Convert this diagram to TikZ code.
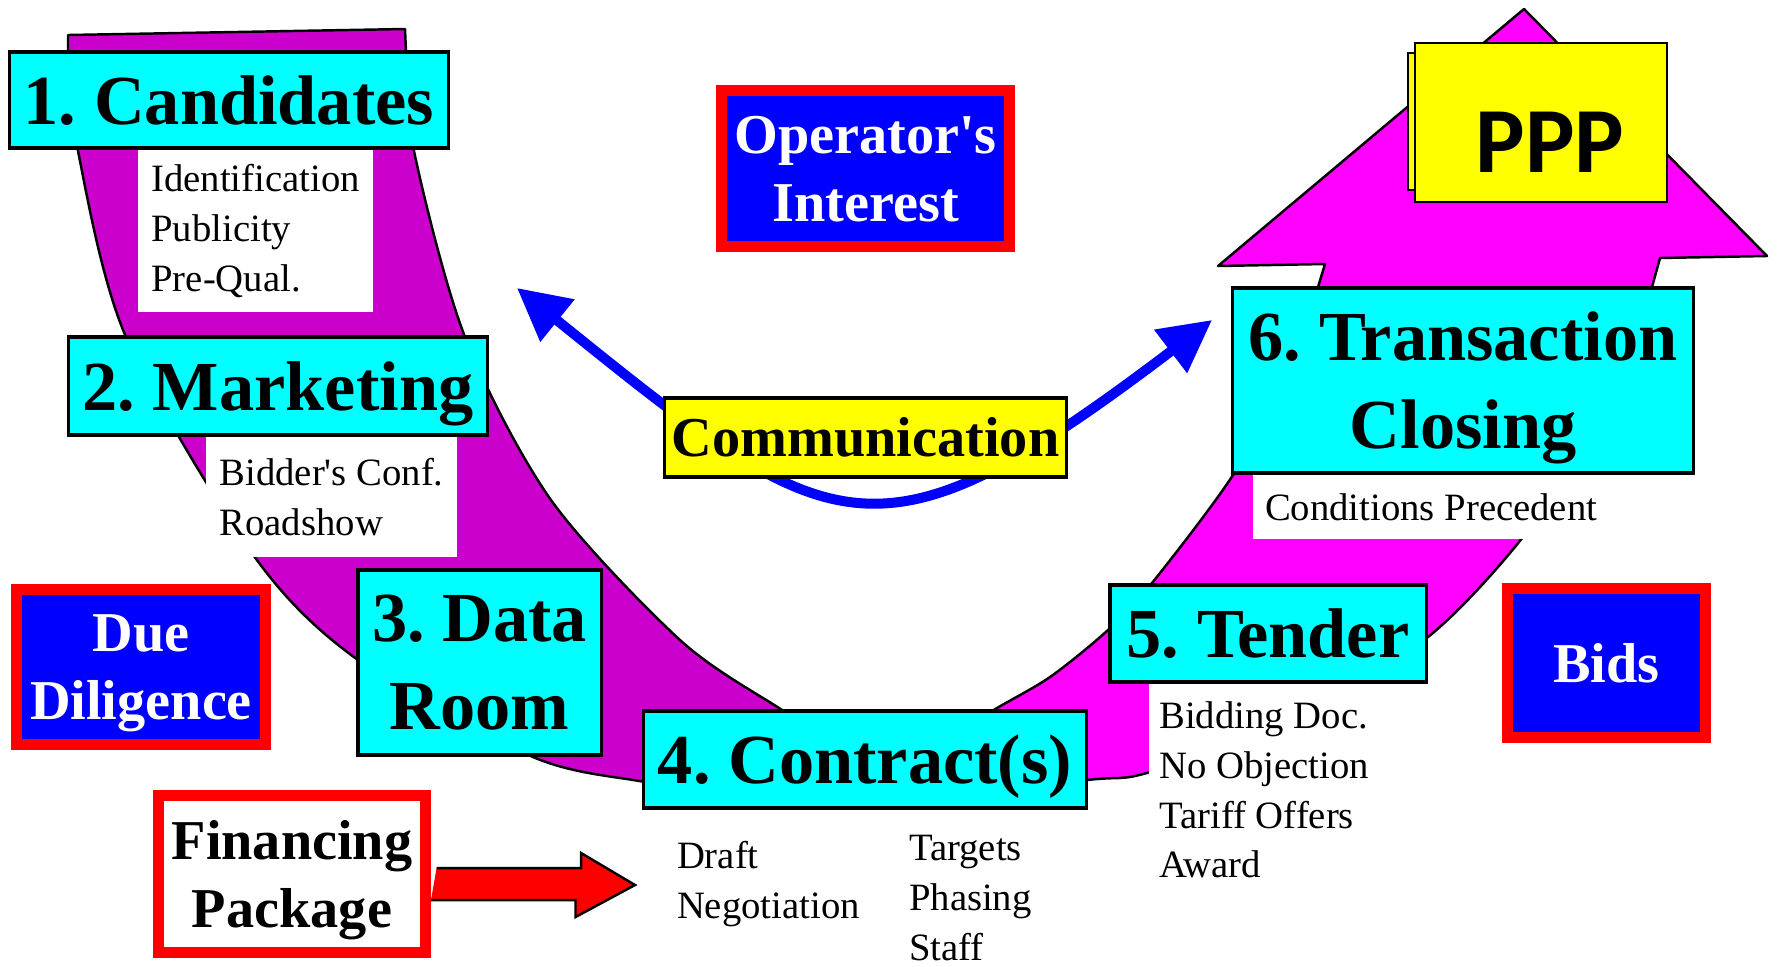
\documentclass[tikz,border=0pt]{standalone}
\usepackage{fontspec}
\setmainfont{Liberation Serif}
\newfontfamily\pppfont{Carlito}
\usetikzlibrary{arrows.meta,positioning,calc}
\usepackage{xcolor}
\definecolor{arcPlum}{HTML}{CC00CC}
\definecolor{arcPink}{HTML}{FF00FF}
\definecolor{stepCyan}{HTML}{00FFFF}
\definecolor{stepYellow}{HTML}{FFFF00}
\definecolor{frameBlue}{HTML}{0000FF}
\definecolor{frameRed}{HTML}{FF0000}
\frenchspacing

\begin{document}
\begin{tikzpicture}[x=0.01cm, y=-0.01cm,
        stepbox/.style={draw, line width=0.9pt, fill=stepCyan, align=center, inner sep=0pt,
            text depth=0pt, font=\fontsize{20}{25}\selectfont\bfseries},
        items/.style={fill=white, align=left, anchor=north west, inner xsep=0.09cm,
            inner ysep=0.14cm, font=\fontsize{11}{14.2}\selectfont},
        redframe/.style={draw=frameRed, line width=0.11cm, fill=frameBlue, text=white,
            align=center, inner sep=0pt, text depth=0pt,
            font=\fontsize{16}{19.3}\selectfont\bfseries},
        band/.style={draw, line width=0.7pt, line join=round},
        commline/.style={draw=frameBlue, line width=0.1cm,
            {Triangle[length=0.52cm,width=0.52cm]}-{Triangle[length=0.52cm,width=0.52cm]}}
    ]
        \useasboundingbox (0,0) rectangle (1777,966);

        % the two bands
        \filldraw[band, fill=arcPlum] (405,29) -- (68,35)
            -- plot[smooth] coordinates {(68,52) (78,151) (126,337) (254,556)
                (358,660) (533,757) (645,782) (760,800)}
            -- plot[smooth] coordinates {(850,750) (779,708) (680,640) (551,500)
                (465,337) (414,151) (406,52)}
            -- cycle;
        \filldraw[band, fill=arcPink]
            plot[smooth] coordinates {(900,800) (1087,780) (1150,772) (1300,715) (1428,637)
                (1523,537) (1600,420) (1652,287)}
            -- (1660,258) -- (1767,256) -- (1524,9) -- (1218,266) -- (1325,264)
            -- plot[smooth] coordinates {(1318,287) (1290,370) (1233,475) (1152,583)
                (1108,630) (1050,677) (992,711) (940,745)}
            -- cycle;

        \node (13) [draw, line width=0.7pt, fill=stepYellow, minimum width=2.40cm,
            minimum height=1.37cm] at (1528,121.5) {};
        \node (14) [draw, line width=0.7pt, fill=stepYellow, minimum width=2.52cm,
            minimum height=1.59cm, inner sep=0pt, text height=0.99cm, text depth=0cm,
            font=\pppfont\fontsize{26.5}{30}\selectfont\bfseries] at (1541,122.5)
            {\hspace*{0.18cm}PPP};

        % steps
        \node (1) [stepbox, minimum width=4.38cm, minimum height=0.96cm] at (229,100)
            {1. Candidates};
        \node (11) [items, minimum width=2.35cm] at ([xshift=1.29cm]1.south west)
            {Identification\\ Publicity\\ Pre-Qual.};

        \node (2) [stepbox, minimum width=4.18cm, minimum height=0.98cm] at (278,386)
            {2. Marketing};
        \node (22) [items, minimum width=2.51cm, minimum height=1.2cm]
            at ([xshift=1.38cm]2.south west)
            {Bidder{\textquotesingle}s Conf.\\ Roadshow};

        \node (3) [stepbox, minimum width=2.43cm, minimum height=1.85cm] at (479.5,662.5)
            {3. Data\\ Room};

        \node (4) [stepbox, minimum width=4.42cm, minimum height=0.97cm] at (865,759.5)
            {4. Contract(s)};
        \node (44) [items] at ([xshift=0.25cm,yshift=-0.17cm]4.south west)
            {Draft\\ Negotiation};
        \node (444) [items] at ([xshift=2.57cm,yshift=-0.11cm]4.south west)
            {Targets\\ Phasing\\ Staff};

        \node (5) [stepbox, minimum width=3.16cm, minimum height=0.97cm] at (1268,633.5)
            {5. Tender};
        \node (55) [items, minimum width=2.30cm, inner ysep=0.17cm]
            at ([xshift=0.40cm]5.south west)
            {Bidding Doc.\\ No Objection\\ Tariff Offers\\ Award};

        \node (6) [stepbox, minimum width=4.60cm, minimum height=1.85cm] at (1463,380.5)
            {6. Transaction\\ Closing};
        \node (66) [items, minimum width=3.56cm, minimum height=0.64cm]
            at ([xshift=0.21cm]6.south west)
            {Conditions Precedent};

        % side boxes
        \node (8) [redframe, minimum width=2.88cm, minimum height=1.56cm] at (865.5,168.5)
            {Operator{\textquotesingle}s\\ Interest};
        \node (9) [redframe, minimum width=2.49cm, minimum height=1.55cm] at (141,667)
            {Due\\ Diligence};
        \node (10) [redframe, minimum width=1.98cm, minimum height=1.49cm] at (1606.5,663)
            {Bids};
        \node (12) [redframe, fill=white, text=black, minimum width=2.67cm,
            minimum height=1.57cm] at (292,874)
            {Financing\\ Package};

        % communication
        \coordinate (commL) at (517,288);
        \coordinate (commR) at (1212,320);
        \draw[commline] (commL) .. controls (833,543) and (876,575) .. (commR);
        \node (7) [draw, line width=0.9pt, fill=stepYellow, minimum width=4.01cm,
            minimum height=0.79cm, inner sep=0pt, font=\fontsize{16}{19}\selectfont\bfseries]
            at (865.5,437.5) {Communication};

        % financing arrow
        \coordinate (finTip) at (635,885);
        \draw[line width=0.7pt, fill=frameRed] ($(12.east)+(5.5,-6)$) -- ++(144.5,0)
            -- ++(0,-15) -- (finTip) -- ++(-59.5,32) -- ++(0,-17) -- ++(-144.5,0);
\end{tikzpicture}
\end{document}
